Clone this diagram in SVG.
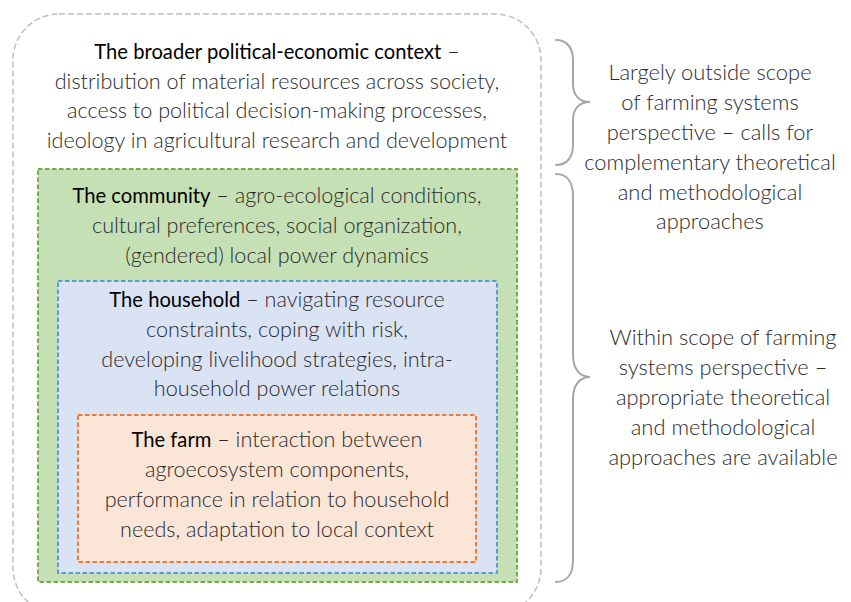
<svg xmlns="http://www.w3.org/2000/svg" width="851" height="602" viewBox="0 0 851 602">
  <style>
    text { font-family: Lato, "Open Sans", "Liberation Sans", sans-serif; font-size: 21.6px; text-anchor: middle; }
    .body { fill: #2b2b2b; font-weight: 300; }
    .title { fill: #000000; font-weight: 400; font-size: 20.2px; }
    .side { fill: #2b2b2b; font-weight: 300; font-size: 21.9px; }
    .brace { fill: none; stroke: #a6a6a6; stroke-width: 2; stroke-linecap: round; }
  </style>

  <!-- outermost layer: political-economic context -->
  <g id="context">
    <rect x="13" y="14" width="528" height="600" rx="46" ry="46" fill="#ffffff" stroke="#bfbfbf" stroke-width="1.5" stroke-dasharray="6 3"/>
    <text x="277" y="59"><tspan class="title">The broader political-economic context</tspan><tspan class="body"> –</tspan></text>
    <text class="body" x="277" y="89">distribution of material resources across society,</text>
    <text class="body" x="277" y="118">access to political decision-making processes,</text>
    <text class="body" x="277" y="148">ideology in agricultural research and development</text>
  </g>

  <!-- community layer -->
  <g id="community">
    <rect x="38" y="169" width="479" height="413" fill="#c5e0b4" stroke="#70ad47" stroke-width="2" stroke-dasharray="4.5 2.5"/>
    <text x="277" y="203"><tspan class="title">The community</tspan><tspan class="body"> – agro-ecological conditions,</tspan></text>
    <text class="body" x="277" y="233">cultural preferences, social organization,</text>
    <text class="body" x="277" y="263">(gendered) local power dynamics</text>
  </g>

  <!-- household layer -->
  <g id="household">
    <rect x="58" y="281" width="439" height="292" fill="#dae3f3" stroke="#5b9bd5" stroke-width="2" stroke-dasharray="4.5 2.5"/>
    <text x="277" y="307"><tspan class="title">The household</tspan><tspan class="body"> – navigating resource</tspan></text>
    <text class="body" x="277" y="337">constraints, coping with risk,</text>
    <text class="body" x="277" y="367">developing livelihood strategies, intra-</text>
    <text class="body" x="277" y="396">household power relations</text>
  </g>

  <!-- farm layer -->
  <g id="farm">
    <rect x="78" y="415" width="398" height="147" fill="#fbe5d6" stroke="#ed7d31" stroke-width="2" stroke-dasharray="4.5 2.5"/>
    <text x="277" y="447"><tspan class="title">The farm</tspan><tspan class="body"> – interaction between</tspan></text>
    <text class="body" x="277" y="477">agroecosystem components,</text>
    <text class="body" x="277" y="507">performance in relation to household</text>
    <text class="body" x="277" y="537">needs, adaptation to local context</text>
  </g>

  <!-- curly braces -->
  <g id="connectors">
    <path class="brace" d="M556,40 C567,40 573,48 573,60 L573,84 C573,95 579,102 590,102 C579,102 573,109 573,120 L573,145 C573,157 567,165 556,165"/>
    <path class="brace" d="M556,174 C567,174 573,182 573,196 L573,355 C573,368 579,377 590,377 C579,377 573,386 573,399 L573,560 C573,574 567,582 556,582"/>
  </g>

  <!-- scope notes -->
  <g id="outside-scope">
    <text class="side" x="710" y="80">Largely outside scope</text>
    <text class="side" x="710" y="110">of farming systems</text>
    <text class="side" x="710" y="140">perspective – calls for</text>
    <text class="side" x="710" y="170">complementary theoretical</text>
    <text class="side" x="710" y="200">and methodological</text>
    <text class="side" x="710" y="229">approaches</text>
  </g>
  <g id="within-scope">
    <text class="side" x="723" y="345">Within scope of farming</text>
    <text class="side" x="723" y="375">systems perspective –</text>
    <text class="side" x="723" y="405">appropriate theoretical</text>
    <text class="side" x="723" y="435">and methodological</text>
    <text class="side" x="723" y="465">approaches are available</text>
  </g>
</svg>
